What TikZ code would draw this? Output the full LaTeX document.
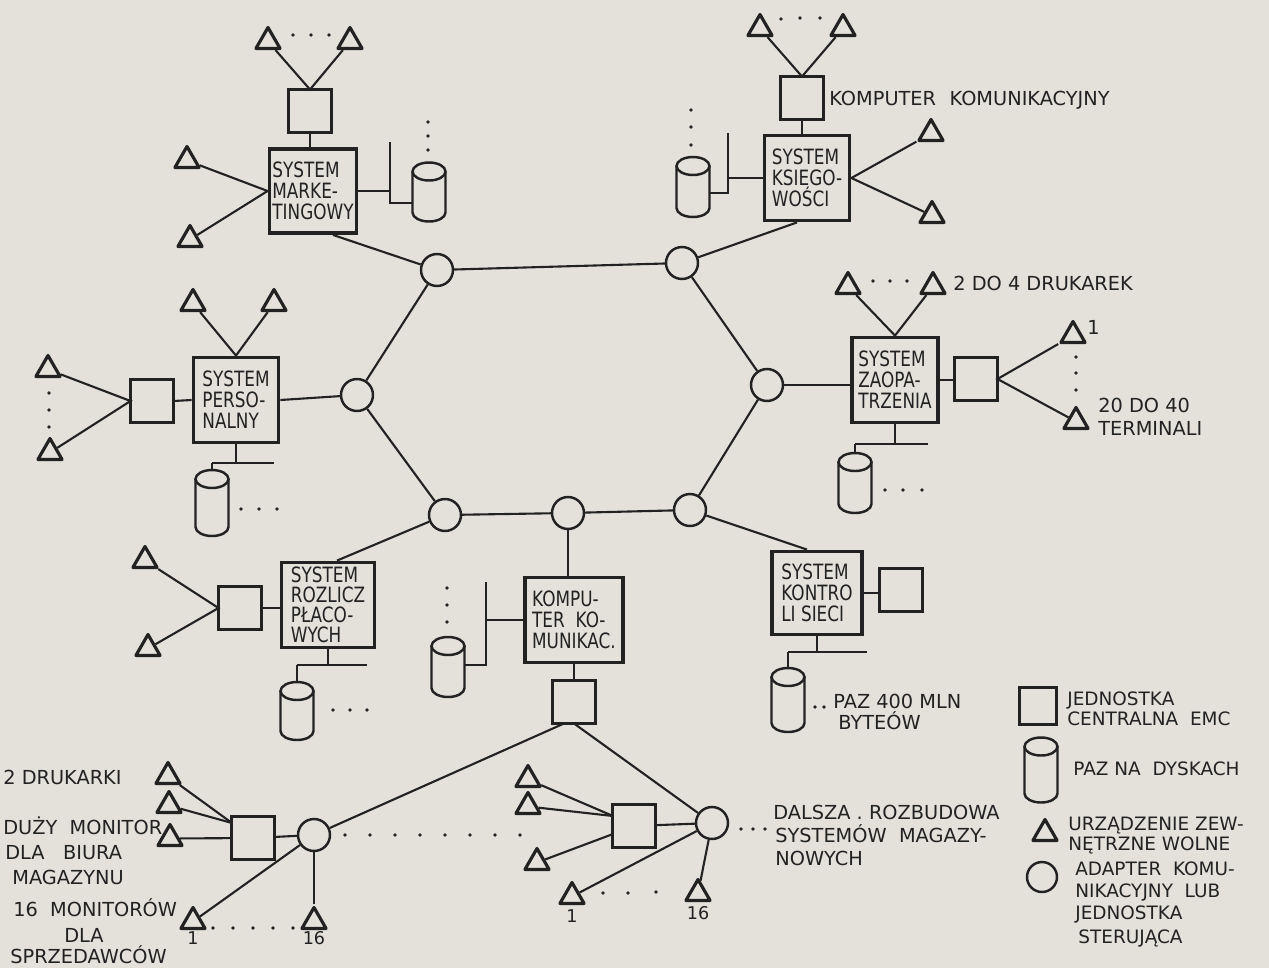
\documentclass[tikz,border=0pt]{standalone}
\usepackage{fontspec}
\setmainfont{DejaVu Sans}
\newfontfamily\condfont{DejaVu Sans}[FakeStretch=0.8]
\usetikzlibrary{shapes.geometric,calc}
\definecolor{paper}{RGB}{227,225,218}
\definecolor{ink}{RGB}{34,34,34}
\newcommand\cylnode[4]{%
  \node[cylbox, minimum height=#4*0.02cm] (#1) at (#2,#3) {};
  \draw[cylline] ($(#1.north west)+(0,9)$) -- ($(#1.south west)+(0,-9)$)
    arc[start angle=180, end angle=0, x radius=16.5, y radius=9]
    -- ($(#1.north east)+(0,9)$);
  \draw[cylline] ($(#1.north)+(0,9)$) ellipse[x radius=16.5, y radius=9];
}
\newcommand\dt[2]{\fill[ink] (#1,#2) circle[radius=1.8];}
\begin{document}
\begin{tikzpicture}[x=0.02cm,y=-0.02cm,
  ln/.style={draw=ink, line width=1.2pt},
  sq/.style={draw=ink, line width=2pt, minimum size=0.86cm, inner sep=0, outer sep=0},
  sysbox/.style={draw=ink, line width=2.2pt, inner sep=1pt, align=left, text=ink,
     font=\condfont\fontsize{12}{12}\selectfont, minimum width=1.74cm, minimum height=1.68cm},
  adapt/.style={circle, draw=ink, line width=1.4pt, minimum size=0.64cm, inner sep=0},
  tri/.style={regular polygon, regular polygon sides=3, draw=ink, line width=1.8pt,
     line join=round, minimum size=0.56cm, inner sep=0, yshift=-0.07cm},
  cylbox/.style={inner sep=0, outer sep=0, minimum width=0.66cm},
  cylline/.style={draw=ink, line width=1.4pt},
  t/.style={anchor=base west, inner sep=0, text=ink, font=\fontsize{11}{13}\selectfont},
  tl/.style={anchor=base west, inner sep=0, text=ink, font=\fontsize{10.5}{12}\selectfont},
  ts/.style={anchor=base, inner sep=0, text=ink, font=\fontsize{10}{12}\selectfont}]
\fill[paper] (0,0) rectangle (1269,968);
\useasboundingbox (0,0) rectangle (1269,968);

% ---------- ring of adapters ----------
\node[adapt] (ctl) at (437,270) {};
\node[adapt] (ctr) at (682,263) {};
\node[adapt] (cl)  at (357,395) {};
\node[adapt] (cbl) at (445,515) {};
\node[adapt] (cbm) at (568,513) {};
\node[adapt] (cbr) at (690,510) {};
\node[adapt] (cr)  at (767,385) {};
\draw[ln] (ctl) -- (ctr);
\draw[ln] (ctl) -- (cl);
\draw[ln] (cl) -- (cbl);
\draw[ln] (cbl) -- (cbm);
\draw[ln] (cbm) -- (cbr);
\draw[ln] (cbr) -- (cr);
\draw[ln] (cr) -- (ctr);

% ---------- marketing ----------
\node[tri] (mtA) at (268,38) {};
\node[tri] (mtB) at (350,38) {};
\dt{293}{35}\dt{311}{35}\dt{329}{35}
\node[sq] (msq) at (310,111) {};
\node[sysbox] (mbox) at (313,191) {SYSTEM\\MARKE-\\TINGOWY};
\node[tri] (mtC) at (187,157) {};
\node[tri] (mtD) at (190,236) {};
\draw[ln] (mtA) -- (msq.north) -- (mtB);
\draw[ln] (msq.south) -- (msq.south |- mbox.north);
\draw[ln] (mtC) -- (mbox.west) -- (mtD);
\coordinate (mbT) at (390,142);
\coordinate (mbB) at (390,203);
\cylnode{mcyl}{429}{192}{59}
\draw[ln] (mbox.east) -- (mbox.east -| mbT);
\draw[ln] (mbT) -- (mbB) -- (mbB -| mcyl.west);
\dt{428}{122}\dt{428}{136}\dt{428}{150}
\draw[ln] ([xshift=0.4cm]mbox.south) -- (ctl);

% ---------- ksiegowosci ----------
\node[tri] (ktA) at (760,25) {};
\node[tri] (ktB) at (843,25) {};
\dt{781}{19}\dt{800}{18}\dt{820}{18}
\node[sq] (ksq) at (802,98) {};
\node[t] (kklbl) at (829,105) {KOMPUTER\hspace{0.7em}KOMUNIKACYJNY};
\node[sysbox, minimum width=1.7cm, minimum height=1.7cm] (kbox) at (807,178) {SYSTEM\\KSIEGO-\\WOŚCI};
\draw[ln] (ktA) -- (ksq.north) -- (ktB);
\draw[ln] (ksq.south) -- (ksq.south |- kbox.north);
\node[tri] (ktC) at (931,130) {};
\node[tri] (ktD) at (932,212) {};
\draw[ln] (ktC) -- (kbox.east) -- (ktD);
\coordinate (kbT) at (728,133);
\coordinate (kbB) at (728,193);
\cylnode{kcyl}{693}{187}{60}
\draw[ln] (kbox.west) -- (kbox.west -| kbT);
\draw[ln] (kbT) -- (kbB) -- (kbB -| kcyl.east);
\dt{691}{110}\dt{691}{127}\dt{691}{145}
\draw[ln] ([xshift=-0.2cm]kbox.south) -- (ctr);

% ---------- personalny ----------
\node[tri] (ptA) at (193,300) {};
\node[tri] (ptB) at (274,300) {};
\node[sysbox, minimum width=1.7cm, minimum height=1.7cm] (pbox) at (236,400) {SYSTEM\\PERSO-\\NALNY};
\node[sq] (psq) at (152,401) {};
\node[tri] (ptC) at (48,366) {};
\node[tri] (ptD) at (50,449) {};
\dt{49}{393}\dt{49}{410}\dt{49}{427}
\draw[ln] (ptA) -- (pbox.north) -- (ptB);
\draw[ln] (psq.east) -- (pbox.west);
\draw[ln] (ptC) -- (psq.west) -- (ptD);
\draw[ln] (pbox.east) -- (cl);
\coordinate (pbL) at (212,463);
\coordinate (pbR) at (274,463);
\cylnode{pcyl}{212}{503}{66}
\draw[ln] (pbox.south) -- (pbox.south |- pbL);
\draw[ln] (pbL) -- (pbR);
\draw[ln] (pbL) -- (pcyl.north);
\dt{241}{509}\dt{259}{509}\dt{277}{509}

% ---------- rozliczen placowych ----------
\node[sysbox, minimum width=1.86cm, minimum height=1.7cm, font=\condfont\fontsize{12}{11.4}\selectfont] (rbox) at (328,605) {SYSTEM\\ROZLICZ\\PŁACO-\\WYCH};
\node[sq] (rsq) at (240,608) {};
\node[tri] (rtA) at (145,557) {};
\node[tri] (rtB) at (148,645) {};
\draw[ln] (rtA) -- (rsq.west) -- (rtB);
\draw[ln] (rsq.east) -- (rsq.east -| rbox.west);
\draw[ln] ([xshift=0.18cm]rbox.north) -- (cbl);
\coordinate (rbL) at (297,665);
\coordinate (rbR) at (367,665);
\cylnode{rcyl}{297}{711}{58}
\draw[ln] (rbox.south) -- (rbox.south |- rbL);
\draw[ln] (rbL) -- (rbR);
\draw[ln] (rbL) -- (rcyl.north);
\dt{333}{710}\dt{350}{710}\dt{367}{710}

% ---------- komputer komunikacyjny ----------
\node[sysbox, minimum width=1.96cm, minimum height=1.7cm] (kkbox) at (574,620) {KOMPU-\\TER\ \ KO-\\MUNIKAC.};
\draw[ln] (cbm.south) -- (cbm.south |- kkbox.north);
\coordinate (kkbT) at (486,582);
\coordinate (kkbB) at (486,665);
\cylnode{kkcyl}{448}{667}{60}
\draw[ln] (kkbox.west) -- (kkbox.west -| kkbT);
\draw[ln] (kkbT) -- (kkbB) -- (kkbB -| kkcyl.east);
\dt{447}{588}\dt{447}{605}\dt{447}{622}
\node[sq] (kksq) at (574,702) {};
\draw[ln] (kkbox.south) -- (kksq.north);

% ---------- warehouse 1 ----------
\node[sq] (w1sq) at (253,838) {};
\node[adapt] (w1c) at (314,835) {};
\node[tri] (w1tA) at (168,773) {};
\node[tri] (w1tB) at (169,802) {};
\node[tri] (w1tC) at (170,835) {};
\coordinate (w1in) at (232,823);
\draw[ln] (w1tA) -- (w1in);
\draw[ln] (w1tB) -- (w1in);
\draw[ln] (w1tC) -- (w1sq);
\draw[ln] (w1sq) -- (w1c);
\node[tri] (w1t1) at (193,918) {};
\node[tri] (w1t16) at (314,918) {};
\draw[ln] (w1c) -- (w1t1);
\draw[ln] (w1c) -- (w1t16);
\node[ts] (w1n1) at (193,944) {1};
\node[ts] (w1n16) at (314,944) {16};
\dt{213}{928}\dt{233}{928}\dt{253}{928}\dt{273}{928}\dt{293}{928}
\dt{345}{835}\dt{370}{835}\dt{395}{835}\dt{420}{835}\dt{445}{835}\dt{470}{835}\dt{495}{835}\dt{520}{835}
\draw[ln] ([xshift=-0.2cm]kksq.south) -- (w1c);
\node[t] (l2dr) at (3,784) {2 DRUKARKI};
\node[t] (ldm1) at (3,834) {DUŻY\ \ MONITOR};
\node[t] (ldm2) at (5,859) {DLA\ \ \ BIURA};
\node[t] (ldm3) at (12,884) {MAGAZYNU};
\node[t] (l16a) at (13,916) {16\ \ MONITORÓW};
\node[t, anchor=base] (l16b) at (84,942) {DLA};
\node[t] (l16c) at (10,963) {SPRZEDAWCÓW};

% ---------- warehouse 2 ----------
\node[sq] (w2sq) at (634,826) {};
\node[adapt] (w2c) at (712,823) {};
\node[tri] (w2tA) at (528,776) {};
\node[tri] (w2tB) at (528,803) {};
\node[tri] (w2tC) at (537,859) {};
\coordinate (w2in) at (613,816);
\coordinate (w2in2) at (613,834);
\draw[ln] (w2tA) -- (w2in);
\draw[ln] (w2tB) -- (w2in);
\draw[ln] (w2tC) -- (w2in2);
\draw[ln] (w2sq) -- (w2c);
\node[tri] (w2t1) at (572,893) {};
\node[tri] (w2t16) at (698,890) {};
\draw[ln] (w2c) -- (w2t1);
\draw[ln] (w2c) -- (w2t16);
\node[ts] (w2n1) at (572,922) {1};
\node[ts] (w2n16) at (698,919) {16};
\dt{603}{893}\dt{628}{893}\dt{656}{892}
\dt{741}{829}\dt{753}{829}\dt{765}{829}
\draw[ln] (kksq.south) -- (w2c);
\node[t] (ld1) at (773,819) {DALSZA . ROZBUDOWA};
\node[t] (ld2) at (775,842) {SYSTEMÓW\ \ MAGAZY-};
\node[t] (ld3) at (775,865) {NOWYCH};

% ---------- zaopatrzenia ----------
\node[tri] (ztA) at (848,283) {};
\node[tri] (ztB) at (933,283) {};
\dt{873}{281}\dt{890}{281}\dt{907}{281}
\node[t] (l24) at (953,290) {2 DO 4 DRUKAREK};
\node[sysbox, minimum width=1.72cm, minimum height=1.7cm] (zbox) at (895,380) {SYSTEM\\ZAOPA-\\TRZENIA};
\draw[ln] (ztA) -- (zbox.north) -- (ztB);
\draw[ln] (cr.east) -- (cr.east -| zbox.west);
\node[sq] (zsq) at (976,379) {};
\draw[ln] (zbox.east) -- (zbox.east -| zsq.west);
\node[tri] (ztC) at (1073,332) {};
\node[tri] (ztD) at (1076,418) {};
\draw[ln] (ztC) -- (zsq.east) -- (ztD);
\node[t] (l1) at (1087,334) {1};
\dt{1076}{357}\dt{1076}{373}\dt{1076}{390}
\node[t] (l2040a) at (1098,412) {20 DO 40};
\node[t] (l2040b) at (1098,435) {TERMINALI};
\coordinate (zbL) at (855,444);
\coordinate (zbR) at (928,444);
\cylnode{zcyl}{855}{483}{60}
\draw[ln] (zbox.south) -- (zbox.south |- zbL);
\draw[ln] (zbL) -- (zbR);
\draw[ln] (zbL) -- (zcyl.north);
\dt{885}{490}\dt{903}{490}\dt{922}{490}

% ---------- kontroli sieci ----------
\node[sysbox, minimum width=1.8cm, minimum height=1.66cm] (ksbox) at (817,593) {SYSTEM\\KONTRO\\LI SIECI};
\draw[ln] (cbr) -- ([xshift=-0.2cm]ksbox.north);
\node[sq] (kssq) at (901,590) {};
\draw[ln] (ksbox.east) -- (ksbox.east -| kssq.west);
\coordinate (ksbL) at (788,652);
\coordinate (ksbR) at (867,652);
\cylnode{kscyl}{788}{700}{64}
\draw[ln] (ksbox.south) -- (ksbox.south |- ksbL);
\draw[ln] (ksbL) -- (ksbR);
\draw[ln] (ksbL) -- (kscyl.north);
\dt{815}{707}\dt{824}{707}
\node[t] (lpaz1) at (833,708) {PAZ 400 MLN};
\node[t] (lpaz2) at (838,729) {BYTEÓW};

% ---------- legend ----------
\node[sq, minimum size=0.74cm] (lsq) at (1038,706) {};
\node[tl] (lg1a) at (1067,705) {JEDNOSTKA};
\node[tl] (lg1b) at (1067,725) {CENTRALNA\ \ EMC};
\cylnode{lcyl}{1041}{770}{65}
\node[tl] (lg2) at (1073,775) {PAZ NA\ \ DYSKACH};
\node[tri] (ltri) at (1045,830) {};
\node[tl] (lg3a) at (1068,830) {URZĄDZENIE ZEW-};
\node[tl] (lg3b) at (1068,850) {NĘTRZNE WOLNE};
\node[adapt, minimum size=0.6cm] (lcirc) at (1042,877) {};
\node[tl] (lg4a) at (1075,875) {ADAPTER\ \ KOMU-};
\node[tl] (lg4b) at (1075,897) {NIKACYJNY\ \ LUB};
\node[tl] (lg4c) at (1075,919) {JEDNOSTKA};
\node[tl] (lg4d) at (1078,943) {STERUJĄCA};
\end{tikzpicture}
\end{document}
